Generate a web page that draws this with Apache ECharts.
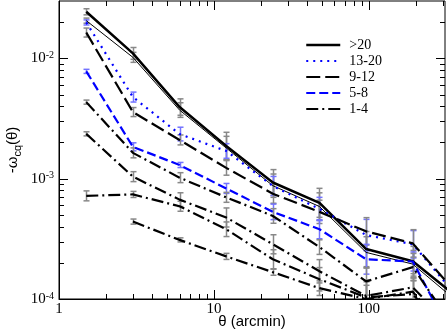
<!DOCTYPE html>
<html lang="en">
<head>
    <meta charset="UTF-8">
    <title>-w_cq(theta)</title>
    <script src="https://cdn.jsdelivr.net/npm/echarts@6.0.0/dist/echarts.min.js"></script>
    <style>html,body{margin:0;padding:0;background:#fff;}</style>
</head>
<body>
<div id="main" style="width: 447px;height:334px;"></div>
<script type="text/javascript">
    // separations (arcmin)
    var theta = [1.5, 3, 6, 12, 24, 48, 96, 192, 384];

    // -w_cq(theta) for each bin
    var w20   = [0.0244, 0.0110, 0.00394, 0.00187, 0.00093, 0.00063, 0.00026, 0.000206, 0.0001];
    var w20b  = [0.0206, 0.0102, 0.00372, 0.0018, 0.000875, 0.000587, 0.000244, 0.000195, 0.000092];
    var w1320 = [0.0199, 0.00477, 0.00235, 0.0017, 0.00087, 0.00056, 0.00034, 0.000285, 0.0001];
    var w912  = [0.0164, 0.00358, 0.0021, 0.00123, 0.00075, 0.00053, 0.000365, 0.00029, 0.000105];
    var w58   = [0.0078, 0.00184, 0.0013, 0.00083, 0.00053, 0.00038, 0.000214, 0.000205, 0.000038];
    var w14   = [0.00433, 0.00164, 0.00102, 0.0007, 0.00049, 0.00027, 0.00014, 0.000184, 0.00005];
    var w14b  = [0.00236, 0.00104, 0.00067, 0.000476, 0.000285, 0.00017, 0.000106, 0.000125, 0.00005];
    var w14c  = [0.00072, 0.00074, 0.00059, 0.00038, 0.000214, 0.000146, 0.000103, 0.00011, 0.00004];
    var w14d  = [null, 0.00044, 0.00031, 0.000226, 0.000167, 0.000123, 0.0001, 0.000115, 0.00004];

    // relative errors
    var e20   = [0.06, 0.12, 0.17, 0.3, 0.28, 0.32, 0.4, 0.33];
    var e20b  = [0.05, 0.1, 0.15, 0.25, 0.25, 0.3, 0.35, 0.3];
    var e1320 = [0.05, 0.1, 0.14, 0.15, 0.2, 0.25, 0.35, 0.3];
    var e912  = [0.09, 0.09, 0.1, 0.15, 0.2, 0.25, 0.3, 0.3];
    var e58   = [0.04, 0.08, 0.05, 0.1, 0.16, 0.2, 0.33, 0.2];
    var e14   = [0.04, 0.1, 0.1, 0.1, 0.15, 0.15, 0.3, 0.3];
    var e14b  = [0.04, 0.1, 0.14, 0.2, 0.2, 0.25, 0.35, 0.3];
    var e14c  = [0.1, 0.06, 0.1, 0.15, 0.2, 0.25, 0.35, 0.3];
    var e14d  = [null, 0.05, 0.04, 0.06, 0.06, 0.15, 0.3, 0.3];

    // axes
    var xMin = 1, xMax = 310;
    var yMin = 1e-4, yMax = 0.03;
    var xMajor = [1, 10, 100];
    var xMinor = [2, 3, 4, 5, 6, 7, 8, 9, 20, 30, 40, 50, 60, 70, 80, 90, 200, 300];
    var yMajor = [1e-4, 1e-3, 1e-2];
    var yMinor = [2e-4, 3e-4, 4e-4, 5e-4, 6e-4, 7e-4, 8e-4, 9e-4,
                  2e-3, 3e-3, 4e-3, 5e-3, 6e-3, 7e-3, 8e-3, 9e-3, 2e-2];

    var serif = "Liberation Serif";
    var sans = "Liberation Sans";
    var blue = "#0000ff";
    var dashDot = [12, 4, 2, 4];

    // line look of each bin
    var looks = {
        ">20":   {color: "#000", width: 2.5, type: "solid"},
        "13-20": {color: blue, width: 2.2, type: [2, 5]},
        "9-12":  {color: "#000", width: 2.2, type: [14, 5]},
        "5-8":   {color: blue, width: 2.2, type: [9, 4]},
        "1-4":   {color: "#000", width: 2.2, type: dashDot}
    };
    var names = [">20", "13-20", "9-12", "5-8", "1-4"];

    function isPow10(v) {
        var e = Math.log10(v);
        return Math.abs(e - Math.round(e)) < 1e-6;
    }

    function lineSeries(name, vals, look) {
        return {
            name: name,
            type: "line",
            data: theta.map(function (t, i) { return [t, vals[i]]; }),
            symbol: "none",
            showSymbol: false,
            clip: true,
            z: 3,
            lineStyle: {color: look.color, width: look.width, type: look.type},
            itemStyle: {color: look.color}
        };
    }

    function errSeries(vals, errs, color) {
        var data = [];
        for (var i = 0; i < errs.length; i++) {
            if (vals[i] == null || errs[i] == null) continue;
            data.push([theta[i], vals[i] / (1 + errs[i]), vals[i] * (1 + errs[i])]);
        }
        return {
            type: "custom",
            clip: true,
            silent: true,
            z: 2,
            data: data,
            encode: {x: 0, y: [1, 2]},
            renderItem: function (params, api) {
                var lo = api.coord([api.value(0), api.value(1)]);
                var hi = api.coord([api.value(0), api.value(2)]);
                var x = Math.round(lo[0]) + 0.5;
                var st = {stroke: color, lineWidth: 1.5};
                return {
                    type: "group",
                    children: [
                        {type: "line", shape: {x1: x, y1: lo[1], x2: x, y2: hi[1]}, style: st},
                        {type: "line", shape: {x1: x - 3, y1: lo[1], x2: x + 3, y2: lo[1]}, style: st},
                        {type: "line", shape: {x1: x - 3, y1: hi[1], x2: x + 3, y2: hi[1]}, style: st}
                    ]
                };
            }
        };
    }

    // ticks on all four sides, pointing inward
    function tickSeries(values, dir, len) {
        return {
            type: "custom",
            silent: true,
            z: 6,
            data: values.map(function (v) { return dir === "x" ? [v, yMin] : [xMin, v]; }),
            renderItem: function (params, api) {
                var cs = params.coordSys;
                var p = api.coord([api.value(0), api.value(1)]);
                var st = {stroke: "#000", lineWidth: 1};
                var kids;
                if (dir === "x") {
                    var x = Math.round(p[0]) + 0.5;
                    var b = cs.y + cs.height, t = cs.y;
                    kids = [
                        {type: "line", shape: {x1: x, y1: b, x2: x, y2: b - len}, style: st},
                        {type: "line", shape: {x1: x, y1: t, x2: x, y2: t + len}, style: st}
                    ];
                } else {
                    var y = Math.round(p[1]) + 0.5;
                    var l = cs.x, r = cs.x + cs.width;
                    kids = [
                        {type: "line", shape: {x1: l, y1: y, x2: l + len, y2: y}, style: st},
                        {type: "line", shape: {x1: r, y1: y, x2: r - len, y2: y}, style: st}
                    ];
                }
                return {type: "group", children: kids};
            }
        };
    }

    var myChart = echarts.init(document.getElementById("main"));

    var option = {
        animation: false,
        grid: {
            left: 59, right: 2, top: 1, bottom: 35,
            show: true, borderColor: "#000", borderWidth: 1,
            outerBoundsMode: "none"
        },
        legend: {
            data: names.map(function (n) {
                return {
                    name: n,
                    itemStyle: {opacity: 0},
                    lineStyle: {color: looks[n].color, width: looks[n].width, type: looks[n].type}
                };
            }),
            orient: "vertical",
            left: 305,
            top: 38,
            padding: 0,
            itemWidth: 34,
            itemHeight: 14,
            itemGap: 2,
            selectedMode: false,
            textStyle: {fontFamily: serif, fontSize: 14, color: "#000", padding: [0, 0, 0, 4]}
        },
        xAxis: {
            type: "log",
            min: xMin,
            max: xMax,
            axisLine: {lineStyle: {color: "#000"}},
            axisTick: {show: false},
            splitLine: {show: false},
            axisLabel: {
                color: "#000",
                fontFamily: serif,
                fontSize: 15,
                margin: 3,
                formatter: function (v) { return isPow10(v) ? String(Math.round(v)) : ""; }
            },
            name: "θ (arcmin)",
            nameLocation: "middle",
            nameGap: 15,
            nameMoveOverlap: false,
            nameTextStyle: {fontFamily: sans, fontSize: 15, color: "#000"}
        },
        yAxis: {
            type: "log",
            min: yMin,
            max: yMax,
            axisLine: {lineStyle: {color: "#000"}},
            axisTick: {show: false},
            splitLine: {show: false},
            axisLabel: {
                margin: 5,
                formatter: function (v) {
                    if (!isPow10(v)) return "";
                    return "{b|10}{e|" + Math.round(Math.log10(v)) + "}";
                },
                rich: {
                    b: {fontFamily: serif, fontSize: 15, color: "#000", lineHeight: 16},
                    e: {fontFamily: serif, fontSize: 10, color: "#000", lineHeight: 10, verticalAlign: "top"}
                }
            },
            name: "{a|-ω}{s|cq}{a|(θ)}",
            nameLocation: "middle",
            nameGap: 36,
            nameMoveOverlap: false,
            nameTextStyle: {
                rich: {
                    a: {fontFamily: sans, fontSize: 15, color: "#000", lineHeight: 20},
                    s: {fontFamily: sans, fontSize: 11, color: "#000", lineHeight: 12, verticalAlign: "bottom"}
                }
            }
        },
        series: [
            errSeries(w20, e20, "#888"),
            errSeries(w20b, e20b, "#888"),
            errSeries(w1320, e1320, "#7373ff"),
            errSeries(w912, e912, "#888"),
            errSeries(w58, e58, "#7373ff"),
            errSeries(w14, e14, "#888"),
            errSeries(w14b, e14b, "#888"),
            errSeries(w14c, e14c, "#888"),
            errSeries(w14d, e14d, "#888"),
            lineSeries(">20", w20, looks[">20"]),
            lineSeries("20b", w20b, {color: "#000", width: 1, type: "solid"}),
            lineSeries("13-20", w1320, looks["13-20"]),
            lineSeries("9-12", w912, looks["9-12"]),
            lineSeries("5-8", w58, looks["5-8"]),
            lineSeries("1-4", w14, looks["1-4"]),
            lineSeries("1-4b", w14b, looks["1-4"]),
            lineSeries("1-4c", w14c, looks["1-4"]),
            lineSeries("1-4d", w14d, looks["1-4"]),
            tickSeries(xMajor, "x", 9),
            tickSeries(xMinor, "x", 5),
            tickSeries(yMajor, "y", 9),
            tickSeries(yMinor, "y", 5)
        ]
    };

    myChart.setOption(option);
</script>
</body>
</html>
